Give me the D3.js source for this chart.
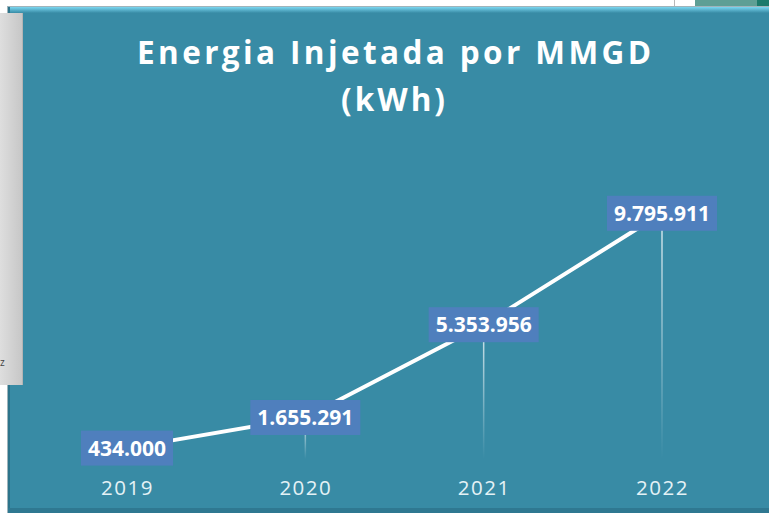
<!DOCTYPE html>
<html>
<head>
<meta charset="utf-8">
<script src="https://cdn.jsdelivr.net/npm/d3@7"></script>
<style>
  html, body { margin: 0; padding: 0; background: #fff; overflow: hidden; }
  svg { display: block; }
</style>
</head>
<body>
<div id="chart"></div>
<script>
// data
var years = ["2019", "2020", "2021", "2022"];
var energia = [434000, 1655291, 5353956, 9795911];
var titleLines = ["Energia Injetada por MMGD", "(kWh)"];

var W = 769, H = 513;
var panel = {x: 8, y: 7, bottom: 508};
var plot = {left: 38, right: 751, top: 158, bottom: 459}; // zero line sits at 459

var svg = d3.select("#chart").append("svg")
    .attr("width", W)
    .attr("height", H);

var defs = svg.append("defs");

// gradients
var topGlow = defs.append("linearGradient").attr("id", "topGlow")
    .attr("x1", 0).attr("y1", 0).attr("x2", 0).attr("y2", 1);
topGlow.append("stop").attr("offset", "0%").attr("stop-color", "#7ad6f0");
topGlow.append("stop").attr("offset", "100%").attr("stop-color", "#388ba5");

var grayPane = defs.append("linearGradient").attr("id", "grayPane")
    .attr("x1", 0).attr("y1", 0).attr("x2", 1).attr("y2", 0);
grayPane.append("stop").attr("offset", "0%").attr("stop-color", "#dedede");
grayPane.append("stop").attr("offset", "100%").attr("stop-color", "#c6c6c6");

var dropFade = defs.append("linearGradient").attr("id", "dropFade")
    .attr("gradientUnits", "objectBoundingBox")
    .attr("x1", 0).attr("y1", 0).attr("x2", 0).attr("y2", 1);
dropFade.append("stop").attr("offset", "0%").attr("stop-color", "#ffffff").attr("stop-opacity", 0.8);
dropFade.append("stop").attr("offset", "100%").attr("stop-color", "#ffffff").attr("stop-opacity", 0);

// window bits above the panel (screenshot leftovers)
svg.append("line").attr("x1", 674.5).attr("x2", 674.5).attr("y1", 0).attr("y2", 7)
    .attr("stroke", "#b8b8b8").attr("stroke-width", 1);
svg.append("rect").attr("x", 695).attr("y", 0).attr("width", 62).attr("height", 8).attr("fill", "#5e9f95");
svg.append("rect").attr("x", 757).attr("y", 0).attr("width", 12).attr("height", 8).attr("fill", "#1b7a6b");

// panel
svg.append("rect").attr("x", panel.x - 1).attr("y", panel.y - 1)
    .attr("width", W).attr("height", H).attr("fill", "#9fb4bb");
svg.append("rect").attr("x", panel.x).attr("y", panel.y)
    .attr("width", W).attr("height", H).attr("fill", "#388ba5");
svg.append("rect").attr("x", panel.x).attr("y", panel.y)
    .attr("width", W).attr("height", 6).attr("fill", "url(#topGlow)");
svg.append("rect").attr("x", panel.x).attr("y", panel.y)
    .attr("width", 2).attr("height", H).attr("fill", "#2c748b");
svg.append("rect").attr("x", panel.x).attr("y", panel.bottom)
    .attr("width", W).attr("height", H - panel.bottom).attr("fill", "#2f7891");

// grey pane covering the left side
svg.append("rect").attr("x", 0).attr("y", 13).attr("width", 23).attr("height", 372)
    .attr("fill", "url(#grayPane)");
svg.append("line").attr("x1", 22.5).attr("x2", 22.5).attr("y1", 13).attr("y2", 385)
    .attr("stroke", "#b4b4b4");
svg.append("text").attr("x", 0).attr("y", 366)
    .style("font-family", "Open Sans").style("font-size", "10px").attr("fill", "#444")
    .text("z");

// title
var title = svg.append("g").attr("class", "title");
title.append("text")
    .attr("x", 394).attr("y", 64)
    .attr("text-anchor", "middle")
    .attr("textLength", 514).attr("lengthAdjust", "spacing")
    .style("font-family", "Open Sans").style("font-weight", 700).style("font-size", "31.5px")
    .attr("fill", "#ffffff")
    .text(titleLines[0]);
title.append("text")
    .attr("x", 393).attr("y", 111)
    .attr("text-anchor", "middle")
    .attr("textLength", 104).attr("lengthAdjust", "spacing")
    .style("font-family", "Open Sans").style("font-weight", 700).style("font-size", "31.5px")
    .attr("fill", "#ffffff")
    .text(titleLines[1]);

// scales
var x = d3.scalePoint().domain(years).range([127, 662]);
var y = d3.scaleLinear().domain([0, 12000000]).range([plot.bottom, plot.top]);

var fmt = d3.formatLocale({decimal: ",", thousands: ".", grouping: [3], currency: ["", ""]}).format(",d");

var data = years.map(function (yr, i) { return {year: yr, value: energia[i]}; });

// drop lines fading towards the zero line
svg.append("g").selectAll("rect.drop")
    .data(data)
    .join("rect")
    .attr("class", "drop")
    .attr("x", function (d) { return x(d.year) - 0.75; })
    .attr("y", function (d) { return y(d.value); })
    .attr("width", 1.5)
    .attr("height", function (d) { return y(0) - y(d.value); })
    .attr("fill", "url(#dropFade)");

// the line
var line = d3.line()
    .x(function (d) { return x(d.year); })
    .y(function (d) { return y(d.value); });

svg.append("path")
    .datum(data)
    .attr("d", line)
    .attr("fill", "none")
    .attr("stroke", "#ffffff")
    .attr("stroke-width", 4)
    .attr("stroke-linejoin", "round");

// category axis labels
var xAxis = d3.axisBottom(x).tickSize(0).tickPadding(0);
var gx = svg.append("g")
    .attr("transform", "translate(0,480)")
    .call(xAxis);
gx.select(".domain").remove();
gx.selectAll("text")
    .attr("dy", "0.71em")
    .attr("y", 0)
    .attr("fill", "#e4f2f6")
    .style("font-family", "Open Sans")
    .style("font-size", "20.5px")
    .style("letter-spacing", "1.5px");

// data labels
var labels = svg.append("g").selectAll("g.lbl")
    .data(data)
    .join("g")
    .attr("class", "lbl")
    .attr("transform", function (d) { return "translate(" + x(d.year) + "," + y(d.value) + ")"; });

labels.append("rect").attr("fill", "#4f7fbd");
labels.append("text")
    .attr("text-anchor", "middle")
    .attr("dy", "0.36em")
    .attr("fill", "#ffffff")
    .style("font-family", "Open Sans")
    .style("font-weight", 700)
    .style("font-size", "21px")
    .text(function (d) { return fmt(d.value); });

labels.each(function () {
    var g = d3.select(this);
    var w = g.select("text").node().getComputedTextLength();
    g.select("rect")
        .attr("x", -w / 2 - 7)
        .attr("y", -17.5)
        .attr("width", w + 14)
        .attr("height", 35);
});
</script>
</body>
</html>
